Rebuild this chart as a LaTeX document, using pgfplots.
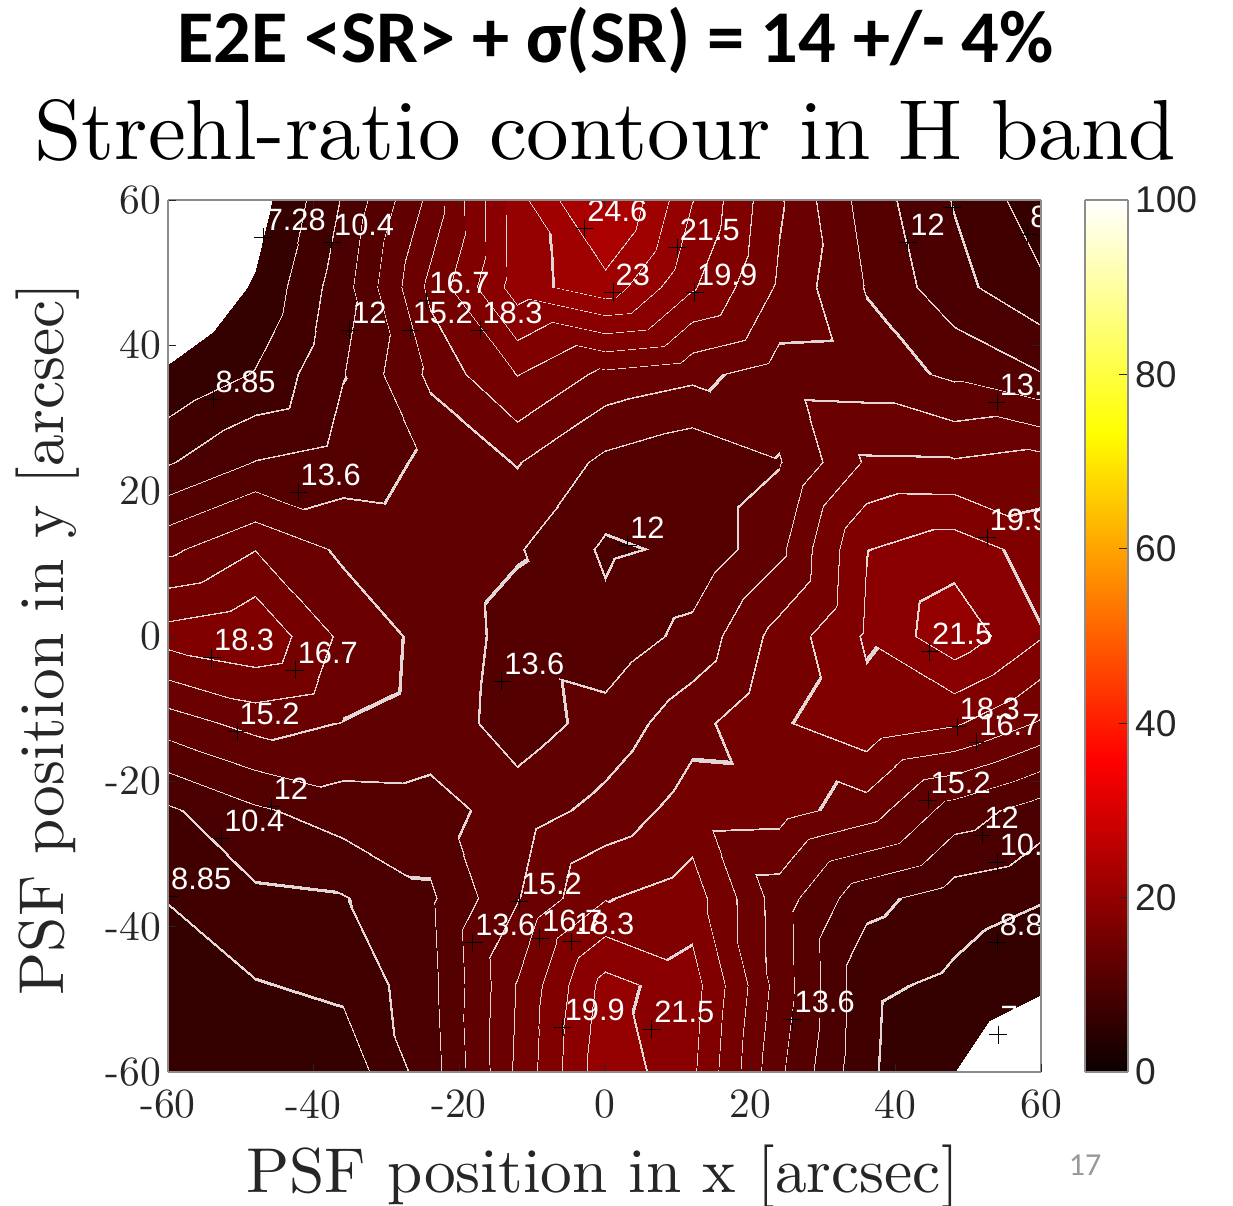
\documentclass[border=0pt]{standalone}
\usepackage{fontspec}
\usepackage{pgfplots}
\pgfplotsset{compat=1.18}
\newfontfamily\arialf{Liberation Sans}
\newfontfamily\carlito{Carlito}
\newfontfamily\cmten{lmroman10-regular.otf}
\definecolor{axgray}{RGB}{38,38,38}
\pgfplotsset{
 colormap={hotm}{
   rgb255(0pt)=(11,0,0) rgb255(35.94pt)=(255,0,0) rgb255(37.5pt)=(255,11,0)
   rgb255(73.44pt)=(255,255,0) rgb255(75pt)=(255,255,16) rgb255(100pt)=(255,255,255)
 },
 colormap={srmap}{
   rgb255(4pt)=(255,255,255)
   rgb255(7.28pt)=(53,0,0)
   rgb255(8.826pt)=(225,215,215) rgb255(8.874pt)=(64,0,0)
   rgb255(10.37pt)=(225,215,215) rgb255(10.43pt)=(74,0,0)
   rgb255(11.974pt)=(225,215,215) rgb255(12.026pt)=(85,0,0)
   rgb255(13.576pt)=(225,215,215) rgb255(13.624pt)=(96,0,0)
   rgb255(15.17pt)=(225,215,215) rgb255(15.23pt)=(106,0,0)
   rgb255(16.67pt)=(225,215,215) rgb255(16.73pt)=(117,0,0)
   rgb255(18.27pt)=(225,215,215) rgb255(18.33pt)=(128,0,0)
   rgb255(19.87pt)=(225,215,215) rgb255(19.93pt)=(138,0,0)
   rgb255(21.47pt)=(225,215,215) rgb255(21.53pt)=(149,0,0)
   rgb255(22.974pt)=(225,215,215) rgb255(23.026pt)=(159,0,0)
   rgb255(24.57pt)=(225,215,215) rgb255(24.63pt)=(170,0,0)
   rgb255(28pt)=(170,0,0)
 },
}
\begin{document}
\begin{tikzpicture}
\path[use as bounding box] (-84pt,-67pt) rectangle (532.5pt,536pt);
\begin{axis}[
  at={(0pt,0pt)}, anchor=south west,
  scale only axis, width=436.5pt, height=436pt,
  view={0}{90},
  xmin=-60, xmax=60, ymin=-60, ymax=60,
  xtick={-60,-40,-20,0,20,40,60},
  xticklabels={-60,-40,-20,0,20,40,60},
  ytick={-60,-40,-20,0,20,40,60},
  yticklabels={-60,-40,-20,0,20,40,60},
  ztick=\empty,
  xtick pos=both, ytick pos=both,
  tick align=inside, major tick length=4pt,
  tick style={axgray, line width=0.5pt},
  axis line style={draw=black!45, line width=0.6pt},
  tick label style={font=\cmten\fontsize{20.8}{20.8}\selectfont, text=axgray},
  xticklabel style={yshift=-5.5pt},
  axis on top,
  colormap name=srmap,
  point meta min=4, point meta max=28,
  clip marker paths=true,
]
\addplot3[surf, shader=interp, colormap access=piecewise constant,
  mesh/rows=11, mesh/cols=11, point meta=z] table[row sep=\\] {
x y z\\
-60 -60 7.4\\ -48 -60 7.5\\ -36 -60 7.8\\ -24 -60 11.25\\ -12 -60 17.0\\ 0 -60 22.7\\ 12 -60 20.2\\ 24 -60 13.9\\ 36 -60 9.1\\ 48 -60 7.3\\ 60 -60 5.5\\
-60 -48 7.5\\ -48 -48 8.75\\ -36 -48 9.2\\ -24 -48 11.5\\ -12 -48 16.8\\ 0 -48 22.1\\ 12 -48 20.6\\ 24 -48 14.5\\ 36 -48 9.2\\ 48 -48 8.5\\ 60 -48 7.5\\
-60 -36 8.95\\ -48 -36 10.1\\ -36 -36 10.3\\ -24 -36 11.75\\ -12 -36 15.1\\ 0 -36 18.2\\ 12 -36 19.1\\ 24 -36 14.4\\ 36 -36 10.9\\ 48 -36 9.6\\ 60 -36 8.95\\
-60 -24 10.15\\ -48 -24 11.75\\ -36 -24 12.8\\ -24 -24 12.9\\ -12 -24 14.4\\ 0 -24 15.7\\ 12 -24 17.4\\ 24 -24 17.3\\ 36 -24 16.0\\ 48 -24 12.9\\ 60 -24 11.2\\
-60 -12 14.4\\ -48 -12 15.77\\ -36 -12 15.15\\ -24 -12 14.6\\ -12 -12 12.8\\ 0 -12 14.2\\ 12 -12 16.2\\ 24 -12 18.1\\ 36 -12 19.4\\ 48 -12 18.5\\ 60 -12 16.5\\
-60 0 19.0\\ -48 0 19.7\\ -36 0 16.3\\ -24 0 14.7\\ -12 0 13.0\\ 0 0 12.5\\ 12 0 14.1\\ 24 0 17.3\\ 36 0 20.1\\ 48 0 22.6\\ 60 0 20.0\\
-60 12 14.85\\ -48 12 16.65\\ -36 12 14.9\\ -24 12 14.6\\ -12 12 13.75\\ 0 12 11.75\\ 12 12 12.3\\ 24 12 14.8\\ 36 12 19.85\\ 48 12 20.8\\ 60 12 19.2\\
-60 24 10.25\\ -48 24 12.06\\ -36 24 12.7\\ -24 24 13.9\\ -12 24 15.3\\ 0 24 13.2\\ 12 24 12.3\\ 24 24 13.5\\ 36 24 16.9\\ 48 24 16.85\\ 60 24 17.3\\
-60 36 7.5\\ -48 36 8.95\\ -36 36 11.93\\ -24 36 15.55\\ -12 36 18.36\\ 0 36 16.3\\ 12 36 15.6\\ 24 36 14.5\\ 36 36 14.4\\ 48 36 13.3\\ 60 36 12.06\\
-60 48 5.5\\ -48 48 7.45\\ -36 48 11.33\\ -24 48 17.1\\ -12 48 22.3\\ 0 48 24.0\\ 12 48 20.1\\ 24 48 16.46\\ 36 48 13.5\\ 48 48 10.9\\ 60 48 9.1\\
-60 60 4.5\\ -48 60 6.5\\ -36 60 10.56\\ -24 60 15.65\\ -12 60 22.4\\ 0 60 27.0\\ 12 60 21.55\\ 24 60 16.9\\ 36 60 12.9\\ 48 60 10.3\\ 60 60 7.9\\
};
\addplot3[only marks, mark=+, mark size=4.5pt, mark options={draw=black, line width=0.5pt},
  point meta=explicit symbolic, nodes near coords,
  every node near coord/.append style={text=white, font=\arialf\fontsize{15.4}{15.4}\selectfont,
     anchor=base west, inner sep=0pt, xshift=1pt, yshift=3.5pt}]
 coordinates {
 (-46.9,54.9,0) [7.28] (-37.5,54.1,0) [10.4] (-2.7,56.1,0) [24.6] (10.0,53.4,0) [21.5]
 (41.7,54.1,0) [12] (58.2,55.2,0) [8.85] (1.2,47.3,0) [23] (12.4,47.3,0) [19.9]
 (-24.4,46.2,0) [16.7] (-35.0,42.1,0) [12] (-26.7,42.1,0) [15.2] (-17.1,42.1,0) [18.3]
 (-53.8,32.5,0) [8.85] (54.0,32.2,0) [13.6] (-42.1,19.7,0) [13.6] (3.2,12.5,0) [12]
 (52.6,13.5,0) [19.9] (-54.0,-3.0,0) [18.3] (-42.5,-4.7,0) [16.7] (44.7,-2.2,0) [21.5]
 (-14.1,-6.2,0) [13.6] (-50.5,-13.2,0) [15.2] (48.5,-12.5,0) [18.3] (51.2,-14.6,0) [16.7]
 (44.5,-22.6,0) [15.2] (-45.8,-23.5,0) [12] (51.9,-27.4,0) [12] (-52.6,-27.8,0) [10.4]
 (54.0,-31.2,0) [10.4] (-59.9,-35.9,0) [8.85] (-11.7,-36.6,0) [15.2] (-18.1,-42.2,0) [13.6]
 (-8.9,-41.6,0) [16.7] (-4.5,-42.1,0) [18.3] (54.0,-42.2,0) [8.85] (-5.8,-53.9,0) [19.9]
 (6.5,-54.1,0) [21.5] (25.8,-52.8,0) [13.6] (54.1,-54.9,0) [7.28]
 };
\addplot3[only marks, mark=+, mark size=4.5pt, mark options={draw=black, line width=0.5pt}]
 coordinates {(47.8,59,0)};
\end{axis}
\begin{axis}[
  at={(458.5pt,0pt)}, anchor=south west,
  scale only axis, width=21.5pt, height=436pt,
  view={0}{90},
  xmin=0, xmax=1, ymin=0, ymax=100,
  xtick=\empty, ztick=\empty,
  ytick={0,20,40,60,80,100},
  yticklabels={0,20,40,60,80,100},
  ytick pos=right, yticklabel pos=right,
  tick align=inside, major tick length=4.5pt,
  tick style={axgray, line width=0.5pt},
  axis line style={draw=black!45, line width=0.6pt},
  tick label style={font=\arialf\fontsize{18.6}{18.6}\selectfont, text=axgray},
  axis on top,
  colormap name=hotm,
  point meta min=0, point meta max=100,
]
\addplot3[surf, shader=interp, mesh/rows=6, mesh/cols=2, point meta=y] coordinates {
 (0,0,0) (1,0,0)
 (0,35.94,0) (1,35.94,0)
 (0,37.5,0) (1,37.5,0)
 (0,73.44,0) (1,73.44,0)
 (0,75,0) (1,75,0)
 (0,100,0) (1,100,0)
};
\end{axis}
\node[font=\carlito\bfseries\fontsize{37.2}{37.2}\selectfont, anchor=base] at (223.75pt,504.5pt) {E2E <SR> + σ(SR) = 14 +/- 4\%};
\node[font=\cmten\fontsize{42.6}{42.6}\selectfont, anchor=base] at (218.5pt,456pt) {Strehl-ratio contour in H band};
\node[font=\cmten\fontsize{31.7}{31.7}\selectfont, anchor=base, text=axgray] at (217.25pt,-60pt) {PSF position in x [arcsec]};
\node[font=\cmten\fontsize{31.7}{31.7}\selectfont, anchor=base, rotate=90, text=axgray] at (-52pt,216.5pt) {PSF position in y [arcsec]};
\node[font=\carlito\fontsize{16}{16}\selectfont, text=black!40, anchor=base] at (458.5pt,-51.5pt) {17};
\end{tikzpicture}
\end{document}
